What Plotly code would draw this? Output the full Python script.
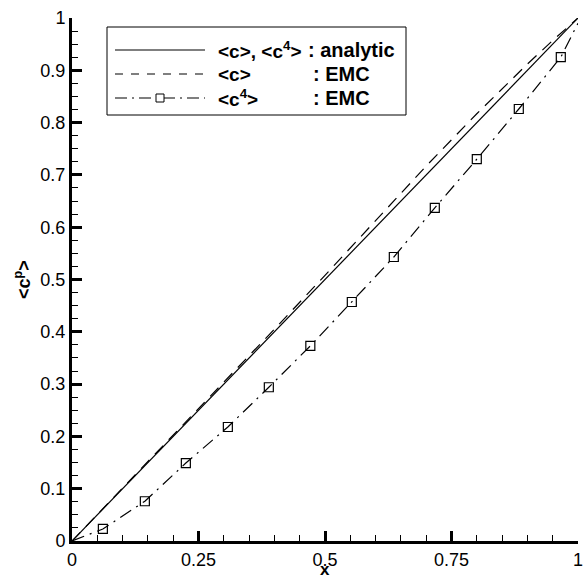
import plotly.graph_objects as go

# ---- data ----
analytic_x = [0.0, 0.1, 0.2, 0.3, 0.4, 0.5, 0.6, 0.7, 0.8, 0.9, 1.0]
analytic_y = [0.0, 0.1, 0.2, 0.3, 0.4, 0.5, 0.6, 0.7, 0.8, 0.9, 1.0]

emc_c_x = [0.0, 0.1, 0.2, 0.3, 0.4, 0.5, 0.6, 0.7, 0.8, 0.9, 0.95, 1.0]
emc_c_y = [0.0, 0.101, 0.202, 0.303, 0.405, 0.508, 0.612, 0.717, 0.817, 0.912, 0.957, 1.0]

emc_c4_x = [0.0, 0.061, 0.144, 0.225, 0.308, 0.389, 0.471, 0.553, 0.636, 0.717, 0.800, 0.883, 0.966, 1.0]
emc_c4_y = [0.0, 0.023, 0.076, 0.149, 0.218, 0.294, 0.373, 0.457, 0.543, 0.637, 0.730, 0.826, 0.925, 0.99]

x_ticks = [0, 0.25, 0.5, 0.75, 1]
x_ticklabels = ["0", "0.25", "0.5", "0.75", "1"]
y_ticks = [0, 0.1, 0.2, 0.3, 0.4, 0.5, 0.6, 0.7, 0.8, 0.9, 1]
y_ticklabels = ["0", "0.1", "0.2", "0.3", "0.4", "0.5", "0.6", "0.7", "0.8", "0.9", "1"]

W, H = 584, 581
L, R, T, B = 72, 6, 18, 40
PW, PH = W - L - R, H - T - B

def px(x):
    return (x - L) / PW

def py(y):
    return (H - B - y) / PH

FONT = "Liberation Sans, Arial, Helvetica, sans-serif"

fig = go.Figure()
fig.add_trace(go.Scatter(x=analytic_x, y=analytic_y, mode="lines",
                         line=dict(color="black", width=1.2), showlegend=False))
fig.add_trace(go.Scatter(x=emc_c_x, y=emc_c_y, mode="lines",
                         line=dict(color="black", width=1.2, dash="12px,8px"), showlegend=False))
fig.add_trace(go.Scatter(x=emc_c4_x, y=emc_c4_y, mode="lines",
                         line=dict(color="black", width=1.2, dash="13px,6px,2px,6px"), showlegend=False))
fig.add_trace(go.Scatter(x=emc_c4_x[1:-1], y=emc_c4_y[1:-1], mode="markers",
                         marker=dict(symbol="square-open", size=9, color="black",
                                     line=dict(width=1.2, color="black")),
                         showlegend=False))

# ---- custom legend ----
shapes = []
annotations = []
bx0, bx1, by0, by1 = 107, 406, 27, 115
shapes.append(dict(type="rect", xref="paper", yref="paper",
                   x0=px(bx0), x1=px(bx1), y0=py(by1), y1=py(by0),
                   line=dict(color="black", width=1), fillcolor="white", layer="above"))
rows = [
    (50, "solid", "&lt;c&gt;, &lt;c<sup>4</sup>&gt;", ": analytic", 306),
    (74, "8px,8px", "&lt;c&gt;", ": EMC", 311),
    (98, "12px,5px,2px,5px", "&lt;c<sup>4</sup>&gt;", ": EMC", 311),
]
for yy, dash, lab, lab2, cx in rows:
    shapes.append(dict(type="line", xref="paper", yref="paper",
                       x0=px(115), x1=px(205), y0=py(yy), y1=py(yy),
                       line=dict(color="black", width=1.2, dash=dash), layer="above"))
    annotations.append(dict(xref="paper", yref="paper", x=px(216), y=py(yy),
                            xanchor="left", yanchor="middle", showarrow=False,
                            text="<b>" + lab + "</b>",
                            font=dict(family=FONT, size=19, color="black")))
    annotations.append(dict(xref="paper", yref="paper", x=px(cx), y=py(yy),
                            xanchor="left", yanchor="middle", showarrow=False,
                            text="<b>" + lab2 + "</b>",
                            font=dict(family=FONT, size=20, color="black")))
# legend marker
shapes.append(dict(type="rect", xref="paper", yref="paper",
                   x0=px(156), x1=px(164), y0=py(102), y1=py(94),
                   line=dict(color="black", width=1), fillcolor="white", layer="above"))

# axis titles
annotations.append(dict(xref="paper", yref="paper", x=0.5, y=py(581),
                        xanchor="center", yanchor="bottom", showarrow=False,
                        text="<b>x</b>", font=dict(family=FONT, size=17, color="black")))
annotations.append(dict(xref="paper", yref="paper", x=px(22), y=py(280),
                        xanchor="center", yanchor="middle", showarrow=False, textangle=-90,
                        text="<b>&lt;c<sup>p</sup>&gt;</b>",
                        font=dict(family=FONT, size=18, color="black")))

fig.update_layout(
    width=W, height=H,
    margin=dict(l=L, r=R, t=T, b=B, pad=0, autoexpand=False),
    paper_bgcolor="white", plot_bgcolor="white",
    font=dict(family=FONT, size=18, color="black"),
    shapes=shapes, annotations=annotations,
    xaxis=dict(range=[0, 1], tickvals=x_ticks, ticktext=x_ticklabels, automargin=False,
               showgrid=False, zeroline=False, showline=True, linecolor="black", linewidth=3,
               ticks="inside", ticklen=10, tickwidth=2.5, tickcolor="black",
               minor=dict(dtick=0.05, tick0=0, ticks="inside", ticklen=6, tickwidth=1.2,
                          tickcolor="black", showgrid=False),
               tickfont=dict(size=18)),
    yaxis=dict(range=[0, 1], tickvals=y_ticks, ticktext=y_ticklabels, automargin=False,
               showgrid=False, zeroline=False, showline=True, linecolor="black", linewidth=3,
               ticks="inside", ticklen=10, tickwidth=2.5, tickcolor="black",
               minor=dict(dtick=0.025, tick0=0, ticks="inside", ticklen=6, tickwidth=1.2,
                          tickcolor="black", showgrid=False),
               tickfont=dict(size=18)),
)

fig.write_html("out.html")
